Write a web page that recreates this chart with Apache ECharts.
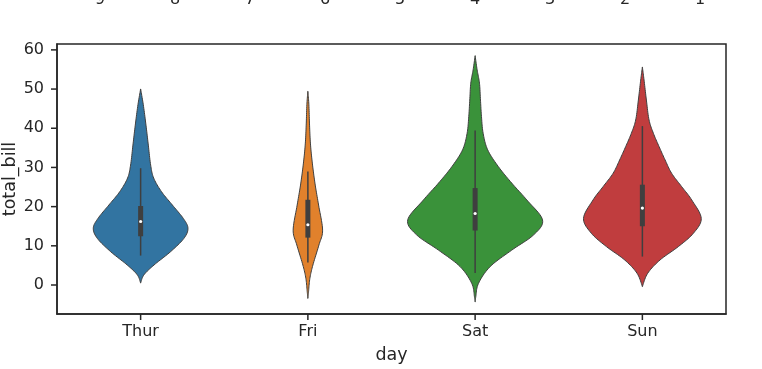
<!DOCTYPE html>
<html>
<head>
<meta charset="utf-8">
<script src="https://cdn.jsdelivr.net/npm/echarts@6/dist/echarts.min.js"></script>
<style>html,body{margin:0;padding:0;background:#fff}#c{width:762px;height:369px}</style>
</head>
<body>
<div id="c"></div>
<script>
// ---- data ----
const categories = ['Thur', 'Fri', 'Sat', 'Sun'];
const colors = ['#3274a1', '#e1812c', '#3a923a', '#c03d3e'];
// violin outlines: [total_bill, half width as fraction of the category band]
const thurProfile = [[50.0,0],[46.0,0.016],[40.8,0.032],[35.7,0.046],[30.6,0.060],[27.3,0.078],[23.8,0.125],[20.4,0.190],[17.0,0.255],[14.5,0.283],[11.9,0.259],[8.5,0.179],[5.1,0.080],[2.6,0.020],[0.5,0]];
const friProfile = [[49.4,0],[46.0,0.006],[40.8,0.010],[35.7,0.016],[30.6,0.028],[25.5,0.044],[20.4,0.064],[14.0,0.088],[10.2,0.066],[5.1,0.030],[1.7,0.012],[-1.7,0.004],[-3.4,0]];
const satProfile = [[58.5,0],[54.9,0.012],[51.5,0.026],[47.2,0.032],[43.0,0.038],[38.7,0.048],[34.5,0.075],[30.2,0.139],[26.0,0.219],[21.7,0.309],[16.6,0.403],[12.8,0.350],[8.9,0.219],[4.7,0.090],[0.4,0.020],[-3.0,0.004],[-4.3,0]];
const sunProfile = [[55.6,0],[52.3,0.010],[47.2,0.024],[42.1,0.040],[38.7,0.066],[35.3,0.100],[31.9,0.136],[28.5,0.175],[25.1,0.235],[21.7,0.295],[17.0,0.352],[13.2,0.305],[9.8,0.215],[6.4,0.106],[3.0,0.032],[-0.4,0]];
// inner box: [whiskerLow, q1, median, q3, whiskerHigh]
const boxStats = [
  [7.51, 12.44, 16.2, 20.16, 29.8],
  [5.75, 12.09, 15.38, 21.75, 28.97],
  [3.07, 13.9, 18.24, 24.74, 39.42],
  [7.25, 14.99, 19.63, 25.6, 40.55]
];
const yTicks = [0, 10, 20, 30, 40, 50, 60];
const topLabels = ['9', '8', '7', '6', '5', '4', '3', '2', '1'];
const profiles = [thurProfile, friProfile, satProfile, sunProfile];

const ink = '#262626';
const tickLen = 6;
const chart = echarts.init(document.getElementById('c'), null, {renderer: 'canvas'});

// Catmull-Rom smoothing of an open pixel polyline (drawing only)
function smoothCurve(pts, steps) {
  const out = [];
  for (let i = 0; i < pts.length - 1; i++) {
    const p0 = pts[Math.max(i - 1, 0)], p1 = pts[i], p2 = pts[i + 1], p3 = pts[Math.min(i + 2, pts.length - 1)];
    for (let s = 0; s < steps; s++) {
      const t = s / steps, t2 = t * t, t3 = t2 * t;
      const f = function (a, b, c, d) {
        return 0.5 * ((2 * b) + (-a + c) * t + (2 * a - 5 * b + 4 * c - d) * t2 + (-a + 3 * b - 3 * c + d) * t3);
      };
      out.push([f(p0[0], p1[0], p2[0], p3[0]), f(p0[1], p1[1], p2[1], p3[1])]);
    }
  }
  out.push(pts[pts.length - 1]);
  return out;
}

function renderViolin(params, api) {
  const idx = api.value(0);
  const prof = profiles[idx];
  const band = api.size([1, 0])[0];
  const cx = api.coord([idx, 0])[0];
  const cs = params.coordSys;
  const halfPx = prof.map(function (p) {
    return [p[1] * band, api.coord([idx, p[0]])[1]];
  });
  const sm = smoothCurve(halfPx, 10).map(function (q) { return [Math.max(q[0], 0.15), q[1]]; });
  const right = sm.map(function (q) { return [cx + q[0], q[1]]; });
  const left = sm.map(function (q) { return [cx - q[0], q[1]]; }).reverse();
  const pts = right.concat(left);
  const b = boxStats[idx];
  const yLo = api.coord([idx, b[0]])[1];
  const yQ1 = api.coord([idx, b[1]])[1];
  const yMed = api.coord([idx, b[2]])[1];
  const yQ3 = api.coord([idx, b[3]])[1];
  const yHi = api.coord([idx, b[4]])[1];
  const boxW = 5;
  const bottom = cs.y + cs.height;
  const children = [
    {type: 'polygon', shape: {points: pts},
     style: {fill: colors[idx], stroke: '#3f3f3f', lineWidth: 1, lineJoin: 'round'}},
    {type: 'line', shape: {x1: cx, y1: yHi, x2: cx, y2: yLo},
     style: {stroke: '#3f3f3f', lineWidth: 1.5}},
    {type: 'rect', shape: {x: cx - boxW / 2, y: yQ3, width: boxW, height: yQ1 - yQ3},
     style: {fill: '#3f3f3f'}},
    {type: 'circle', shape: {cx: cx, cy: yMed, r: 1.6},
     style: {fill: '#ffffff'}},
    // category tick below the x axis
    {type: 'line', shape: {x1: cx, y1: bottom, x2: cx, y2: bottom + tickLen},
     style: {stroke: ink, lineWidth: 1.5}}
  ];
  if (idx === 0) {
    yTicks.forEach(function (v) {
      const y = api.coord([0, v])[1];
      children.push({type: 'line', shape: {x1: cs.x - tickLen, y1: y, x2: cs.x, y2: y},
        style: {stroke: ink, lineWidth: 1.5}});
    });
  }
  return {type: 'group', children: children};
}

const graphics = topLabels.map(function (t, i) {
  return {type: 'text', x: 100 + i * 75, y: -8,
    style: {text: t, fill: ink, font: '16px "DejaVu Sans"', align: 'center', verticalAlign: 'top'}};
});

chart.setOption({
  animation: false,
  backgroundColor: '#ffffff',
  textStyle: {fontFamily: 'DejaVu Sans'},
  graphic: graphics,
  grid: {left: 57, right: 36, top: 44, bottom: 55, containLabel: false, outerBoundsMode: 'none',
         show: true, borderColor: ink, borderWidth: 1.5, backgroundColor: 'transparent'},
  xAxis: {
    type: 'category', data: categories, boundaryGap: true, position: 'bottom',
    name: 'day', nameLocation: 'middle', nameGap: 32, nameMoveOverlap: false,
    nameTextStyle: {color: ink, fontSize: 17.5, fontFamily: 'DejaVu Sans'},
    axisLine: {show: true, onZero: false, lineStyle: {color: ink, width: 1.5}},
    axisTick: {show: false},
    axisLabel: {color: ink, fontSize: 16, margin: 10, fontFamily: 'DejaVu Sans'},
    splitLine: {show: false}
  },
  yAxis: {
    type: 'value', min: -7.4, max: 61.5, position: 'left',
    name: 'total_bill', nameLocation: 'middle', nameGap: 38, nameMoveOverlap: false,
    nameTextStyle: {color: ink, fontSize: 17.5, fontFamily: 'DejaVu Sans'},
    axisLine: {show: true, onZero: false, lineStyle: {color: ink, width: 1.5}},
    axisTick: {show: false},
    axisLabel: {color: ink, fontSize: 16, margin: 13, customValues: yTicks, fontFamily: 'DejaVu Sans'},
    splitLine: {show: false}
  },
  series: [{
    type: 'custom',
    renderItem: renderViolin,
    data: categories.map(function (c, i) { return [i]; }),
    encode: {x: 0},
    clip: false
  }]
});
</script>
</body>
</html>
